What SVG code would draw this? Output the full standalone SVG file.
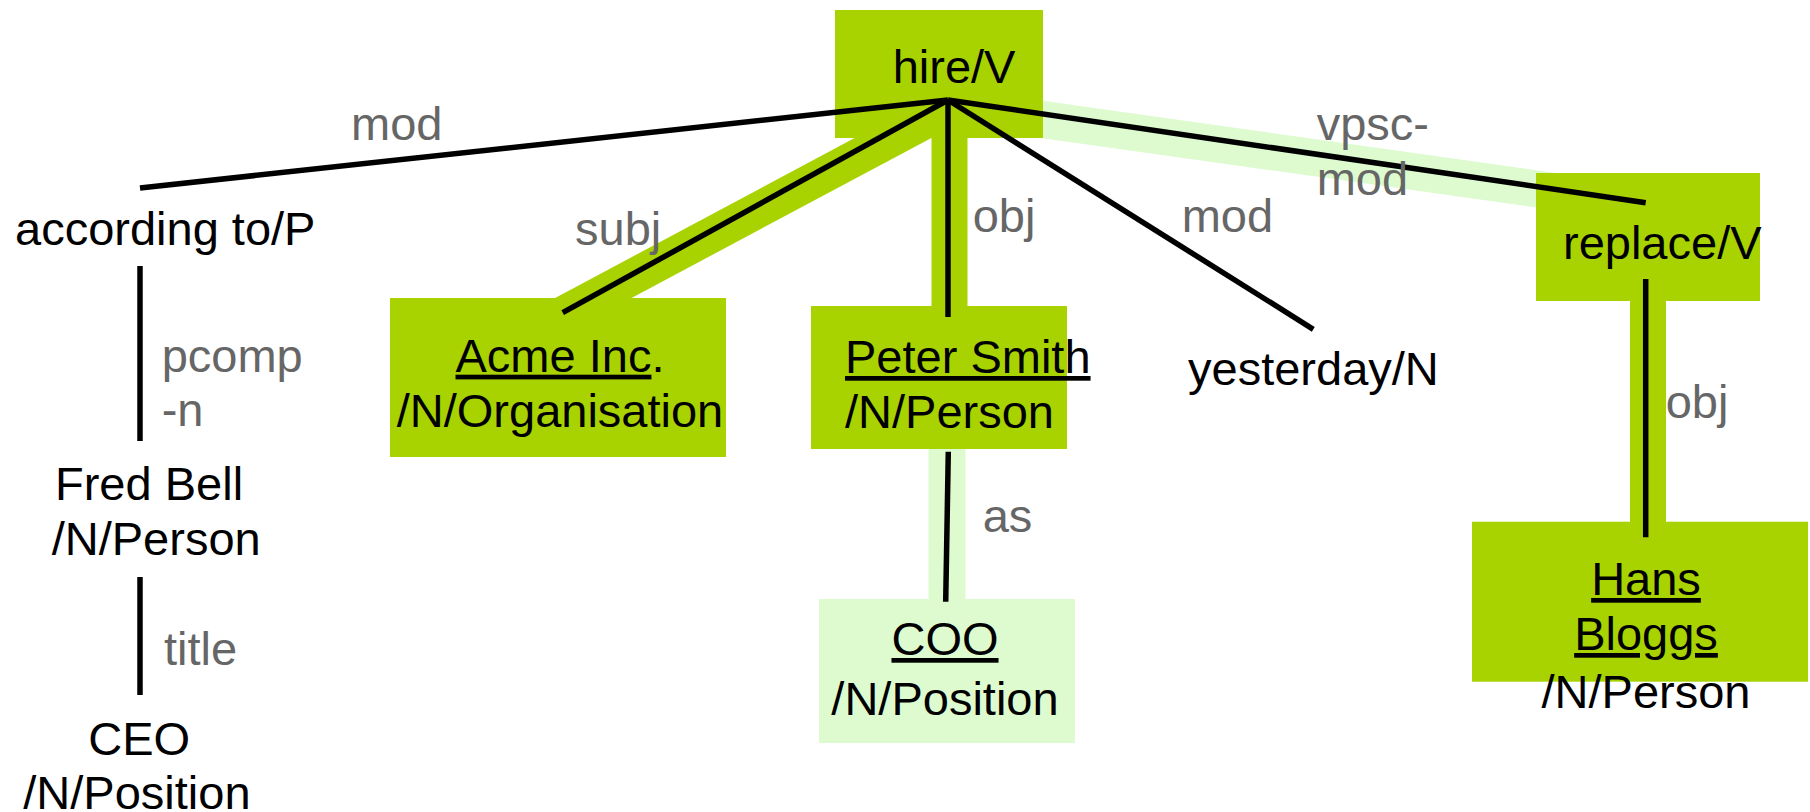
<svg xmlns="http://www.w3.org/2000/svg" width="1810" height="812" viewBox="0 0 1810 812">
<style>
text{font-family:"Liberation Sans",Arial,sans-serif;font-size:47px;fill:#000}
.lbl{fill:#666666}
.dk{fill:#a9d300}
.lt{fill:#ddfbcf}
.hd{stroke:#a9d300;stroke-width:36;fill:none}
.hl{stroke:#ddfbcf;stroke-width:37;fill:none}
.e{stroke:#000;stroke-width:5.5;fill:none}
.u{text-decoration:underline}
</style>
<rect width="1810" height="812" fill="#fff"/>
<g id="highlights">
<line class="hd" x1="551" y1="320.6" x2="937" y2="114.5"/>
<line class="hd" x1="949.5" y1="120" x2="949.5" y2="320"/>
<line class="hl" x1="947" y1="440" x2="947" y2="610"/>
<line class="hl" x1="1000" y1="113.5" x2="1580" y2="195"/>
<line class="hd" x1="1648" y1="290" x2="1648" y2="530"/>
</g>
<g id="n-hire"><rect class="dk" x="835" y="10" width="208" height="128"/><text x="892.7" y="83">hire/V</text></g>
<g id="n-according"><text x="15" y="245">according to/P</text></g>
<g id="n-acme"><rect class="dk" x="390" y="298" width="336" height="159"/><text x="560" y="371.7" text-anchor="middle"><tspan class="u">Acme Inc</tspan>.</text><text x="560" y="426.7" text-anchor="middle">/N/Organisation</text></g>
<g id="n-peter"><rect class="dk" x="811" y="306" width="256" height="143"/><text x="845" y="373" class="u">Peter Smith</text><text x="845" y="428">/N/Person</text></g>
<g id="n-yesterday"><text x="1188" y="385">yesterday/N</text></g>
<g id="n-replace"><rect class="dk" x="1536" y="173" width="224" height="128"/><text x="1563" y="259">replace/V</text></g>
<g id="n-fred"><text x="55" y="500">Fred Bell</text><text x="51.7" y="555">/N/Person</text></g>
<g id="n-ceo"><text x="88.3" y="755">CEO</text><text x="23.3" y="809">/N/Position</text></g>
<g id="n-coo"><rect class="lt" x="819" y="599" width="256" height="144"/><text x="945" y="655" text-anchor="middle" class="u">COO</text><text x="945" y="715" text-anchor="middle">/N/Position</text></g>
<g id="n-hans"><rect class="dk" x="1472" y="521.7" width="336" height="160"/><text x="1646" y="595" text-anchor="middle" class="u">Hans</text><text x="1646" y="650" text-anchor="middle" class="u">Bloggs</text><text x="1646" y="708.3" text-anchor="middle">/N/Person</text></g>
<g id="connectors">
<line class="e" x1="948" y1="100" x2="140" y2="188"/>
<line class="e" x1="948" y1="100" x2="562.7" y2="312.7"/>
<line class="e" x1="948" y1="100" x2="948" y2="317"/>
<line class="e" x1="948" y1="100" x2="1313.3" y2="329.3"/>
<line class="e" x1="948" y1="100" x2="1645.7" y2="202.7"/>
<line class="e" x1="948.3" y1="451.7" x2="945.7" y2="601.7"/>
<line class="e" x1="1645.7" y1="279" x2="1645.7" y2="537.3"/>
<line class="e" x1="140" y1="266" x2="140" y2="441"/>
<line class="e" x1="140" y1="577" x2="140" y2="695"/>
<text class="lbl" x="351" y="140">mod</text>
<text class="lbl" x="575" y="245">subj</text>
<text class="lbl" x="972.7" y="231.7">obj</text>
<text class="lbl" x="1181.7" y="231.7">mod</text>
<text class="lbl" x="1316.7" y="140">vpsc-</text>
<text class="lbl" x="1316.7" y="195">mod</text>
<text class="lbl" x="1665.7" y="418.4">obj</text>
<text class="lbl" x="982.7" y="531.7">as</text>
<text class="lbl" x="161.7" y="371.7">pcomp</text>
<text class="lbl" x="161.7" y="426">-n</text>
<text class="lbl" x="164" y="665">title</text>
</g>
</svg>
